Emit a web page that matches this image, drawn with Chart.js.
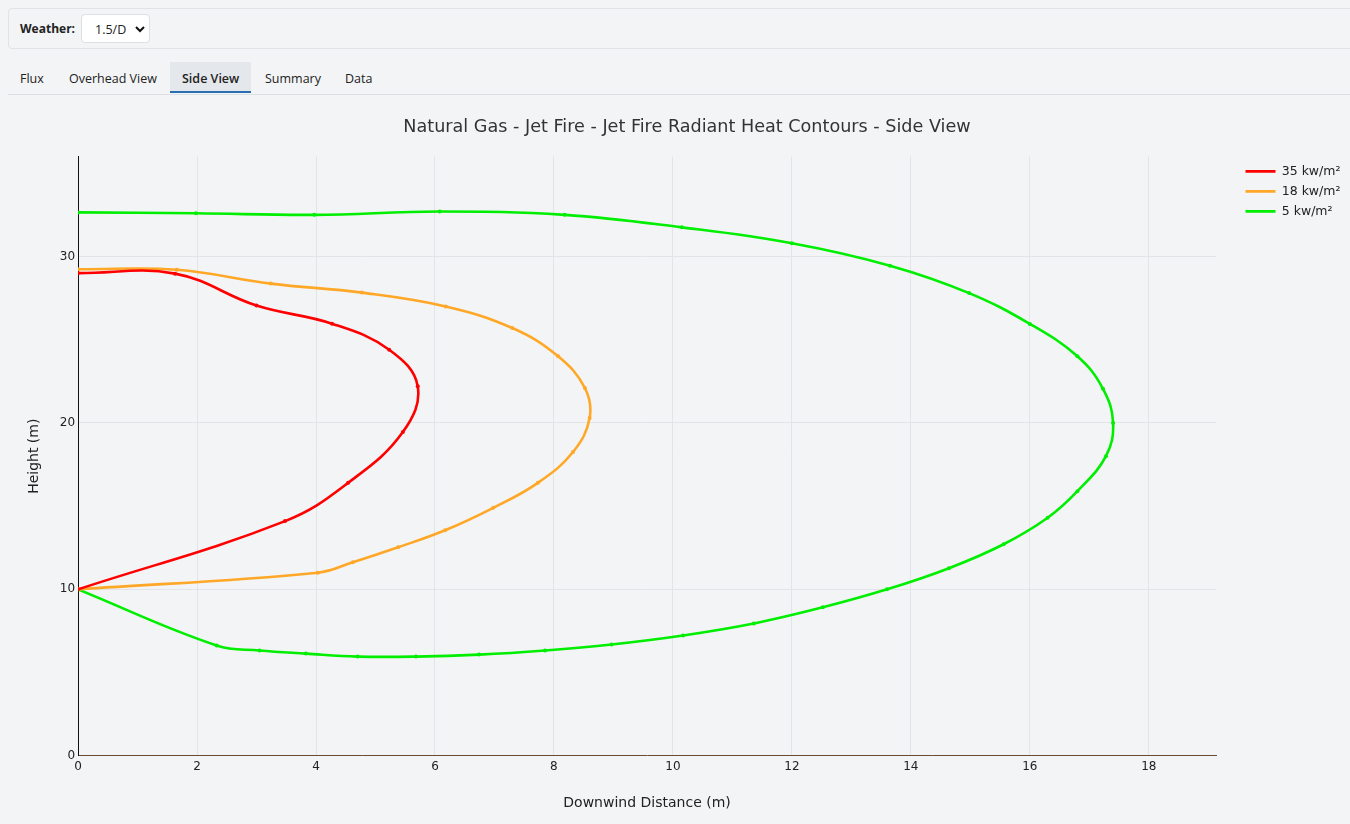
<!DOCTYPE html>
<html>
<head>
<meta charset="utf-8">
<script src="https://cdn.jsdelivr.net/npm/chart.js@4/dist/chart.umd.min.js"></script>
<style>
  html, body { margin: 0; padding: 0; background: #f3f4f6; overflow: hidden; }
  body { width: 1350px; height: 824px; position: relative; font-family: "Open Sans", sans-serif; color: #222; }
  .bar {
    position: absolute; left: 8px; top: 8px; width: 1350px; height: 41px;
    border: 1px solid #e0e2e6; border-radius: 4px; box-sizing: border-box;
  }
  .bar label { position: absolute; left: 11px; top: 11px; font-size: 12px; font-weight: 700; }
  .bar .sel {
    position: absolute; left: 72px; top: 5px; width: 69px; height: 29px; box-sizing: border-box;
    background: #fff; border: 1px solid #dcdfe3; border-radius: 4px; font-size: 12.5px;
  }
  .bar .sel span { position: absolute; left: 13px; top: 6px; }
  .bar .sel svg { position: absolute; left: 53px; top: 10px; }
  .tabs { position: absolute; left: 8px; top: 62px; width: 1342px; height: 32px; border-bottom: 1px solid #dcdfe3; }
  .tabs span { position: absolute; top: 8px; font-size: 12.5px; color: #222; }
  .tabs .active {
    top: 0; height: 31px; padding: 8px 12px 0; box-sizing: border-box;
    background: #e4e7eb; border-bottom: 2px solid #2a6db0; font-weight: 600;
  }
  #wrap { position: absolute; left: 16px; top: 100px; width: 1334px; height: 724px; }
</style>
</head>
<body>
<div class="bar">
  <label>Weather:</label>
  <div class="sel"><span>1.5/D</span>
    <svg width="10" height="8" viewBox="0 0 10 8"><path d="M1 2 L5 6 L9 2" stroke="#111" stroke-width="2" fill="none"/></svg>
  </div>
</div>
<div class="tabs">
  <span style="left:12px">Flux</span>
  <span style="left:61px">Overhead View</span>
  <span class="active" style="left:162px">Side View</span>
  <span style="left:257px">Summary</span>
  <span style="left:337px">Data</span>
</div>
<div id="wrap"><canvas id="chart"></canvas></div>
<script>
const title = 'Natural Gas - Jet Fire - Jet Fire Radiant Heat Contours - Side View';
const levels = ['35 kw/m²', '18 kw/m²', '5 kw/m²'];
const colors = ['#ff0000', '#ffa726', '#00ee00'];

// contour outlines, downwind distance (m) / height (m)
const x35 = [0, 1.63, 3.0, 4.27, 5.23, 5.71, 5.46, 4.54, 3.48, 0];
const y35 = [29.0, 28.97, 27.05, 25.96, 24.4, 22.2, 19.45, 16.4, 14.1, 10];

const x18 = [0, 1.66, 3.24, 4.77, 6.18, 7.3, 8.07, 8.52, 8.6, 8.32, 7.73, 6.98, 6.17, 5.38, 4.62, 4.03, 0];
const y18 = [29.23, 29.2, 28.37, 27.83, 27.0, 25.7, 24.0, 22.1, 20.3, 18.25, 16.4, 14.9, 13.55, 12.53, 11.63, 11.0, 10];

const x5 = [0, 1.98, 3.97, 6.08, 8.18, 10.15, 12.0, 13.65, 14.98, 16.0, 16.8, 17.23, 17.4, 17.28, 16.8, 16.3,
            15.56, 14.64, 13.6, 12.52, 11.36, 10.17, 8.97, 7.85, 6.74, 5.68, 4.7, 3.83, 3.05, 2.33, 0];
const y5 = [32.65, 32.6, 32.5, 32.7, 32.5, 31.75, 30.8, 29.45, 27.8, 25.95, 24.0, 22.05, 20.0, 18.0, 15.9, 14.3,
            12.71, 11.27, 10.0, 8.92, 7.95, 7.23, 6.69, 6.33, 6.08, 5.96, 5.96, 6.14, 6.33, 6.63, 10];

const xTicks = [0, 2, 4, 6, 8, 10, 12, 14, 16, 18];
const yTicks = [0, 10, 20, 30];

const series = [[x35, y35], [x18, y18], [x5, y5]];

const datasets = series.map(([xs, ys], i) => ({
  label: levels[i],
  data: xs.map((x, j) => ({ x, y: ys[j] })),
  showLine: true,
  borderColor: colors[i],
  backgroundColor: colors[i],
  borderWidth: 2.6,
  pointRadius: 2,
  pointBorderWidth: 0,
  tension: 0.4
}));

// legend sits a bit away from the plot, like the original
const legendGap = {
  id: 'legendGap',
  beforeInit(chart) {
    const fit = chart.legend.fit;
    chart.legend.fit = function () {
      fit.call(this);
      this.width = 134;
    };
  },
  afterLayout(chart) {
    chart.legend.left = chart.chartArea.right + 22;
    chart.legend.top = chart.chartArea.top + 1;
  }
};

const family = 'Verdana, "DejaVu Sans", sans-serif';
const font = { family, size: 12 };

new Chart(document.getElementById('chart'), {
  type: 'scatter',
  data: { datasets },
  plugins: [legendGap],
  options: {
    animation: false,
    responsive: true,
    maintainAspectRatio: false,
    layout: { padding: { left: 8, right: 0, top: 0, bottom: 12 } },
    plugins: {
      title: {
        display: true, text: title, color: '#333',
        font: { family, size: 17.6, weight: 'normal' },
        padding: { top: 17, bottom: 18.5 }
      },
      legend: {
        position: 'right', align: 'start',
        labels: {
          usePointStyle: true, pointStyle: 'line', pointStyleWidth: 30,
          padding: 7.5, color: '#222',
          font: { family, size: 12.5 },
          generateLabels: chart => Chart.defaults.plugins.legend.labels.generateLabels(chart)
            .map(l => ({ ...l, lineWidth: 2.6, strokeStyle: colors[l.datasetIndex] }))
        }
      },
      tooltip: { enabled: false }
    },
    scales: {
      x: {
        type: 'linear', min: 0, max: 19.13,
        afterBuildTicks: s => { s.ticks = xTicks.map(v => ({ value: v })); },
        ticks: { color: '#222', font, padding: 4, maxRotation: 0 },
        grid: { color: '#e2e4e8', drawTicks: false },
        border: { color: '#6b4a2e', width: 1 },
        title: {
          display: true, text: 'Downwind Distance (m)', color: '#222',
          font: { family, size: 14 },
          padding: { top: 17, bottom: 0 }
        }
      },
      y: {
        type: 'linear', min: 0, max: 36,
        afterBuildTicks: s => { s.ticks = yTicks.map(v => ({ value: v })); },
        ticks: { color: '#222', font, padding: 3 },
        grid: { color: '#e2e4e8', drawTicks: false },
        border: { color: '#111', width: 1 },
        title: {
          display: true, text: 'Height (m)', color: '#222',
          font: { family, size: 14 },
          padding: { top: 2, bottom: 14 }
        }
      }
    }
  }
});
</script>
</body>
</html>
